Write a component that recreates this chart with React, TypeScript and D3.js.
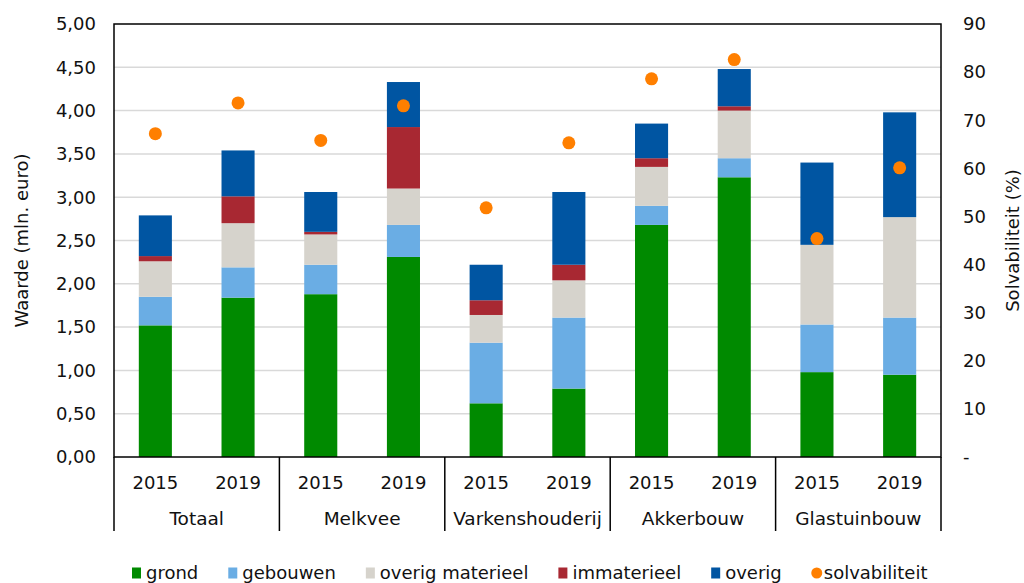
import { useEffect, useRef } from "react";
import * as d3 from "d3";

const groups = ["Totaal", "Melkvee", "Varkenshouderij", "Akkerbouw", "Glastuinbouw"];
const years = ["2015", "2019"];

// waarde in mln. euro, per bar (groep x jaar)
const grond = [1.52, 1.84, 1.88, 2.31, 0.62, 0.79, 2.68, 3.23, 0.98, 0.95];
const gebouwen = [0.33, 0.35, 0.34, 0.37, 0.7, 0.82, 0.22, 0.22, 0.55, 0.66];
const overigMaterieel = [0.41, 0.51, 0.35, 0.42, 0.32, 0.43, 0.45, 0.55, 0.92, 1.16];
const immaterieel = [0.06, 0.31, 0.03, 0.71, 0.17, 0.18, 0.1, 0.05, 0.0, 0.0];
const overig = [0.47, 0.53, 0.46, 0.52, 0.41, 0.84, 0.4, 0.43, 0.95, 1.21];
const solvabiliteit = [67.2, 73.6, 65.8, 73.0, 51.8, 65.3, 78.6, 82.6, 45.4, 60.1];

const leftTicks = [0, 0.5, 1, 1.5, 2, 2.5, 3, 3.5, 4, 4.5, 5];
const rightTicks = [0, 10, 20, 30, 40, 50, 60, 70, 80, 90];

const seriesKeys = ["grond", "gebouwen", "overig materieel", "immaterieel", "overig"];
const seriesColors = ["#008a00", "#6aade4", "#d6d3cc", "#a82832", "#0055a2"];
const dotColor = "#ff7f00";

const font = "'DejaVu Sans', Verdana, sans-serif";

export default function App() {
  const svgRef = useRef<SVGSVGElement>(null);

  useEffect(() => {
    const svg = d3.select(svgRef.current);
    svg.selectAll("*").remove();

    const left = 114, right = 941, top = 24, bottom = 457;

    const rows = grond.map((g, i) => ({
      id: i,
      grond: g,
      gebouwen: gebouwen[i],
      "overig materieel": overigMaterieel[i],
      immaterieel: immaterieel[i],
      overig: overig[i],
    }));
    const ids = rows.map(r => String(r.id));

    const x = d3.scaleBand().domain(ids).range([left, right]).paddingInner(0.6).paddingOuter(0.3);
    const y = d3.scaleLinear().domain([0, 5]).range([bottom, top]);
    const y2 = d3.scaleLinear().domain([0, 90]).range([bottom, top]);
    const gx = d3.scaleBand().domain(groups).range([left, right]);

    // gridlines
    svg.append("g")
      .selectAll("line")
      .data(leftTicks.slice(1, -1))
      .join("line")
      .attr("x1", left).attr("x2", right)
      .attr("y1", d => y(d)).attr("y2", d => y(d))
      .attr("stroke", "#d9d9d9").attr("stroke-width", 1.5);

    // stacked bars
    const stacked = d3.stack<any>().keys(seriesKeys)(rows);
    svg.append("g")
      .selectAll("g")
      .data(stacked)
      .join("g")
      .attr("fill", (_, i) => seriesColors[i])
      .selectAll("rect")
      .data(d => d)
      .join("rect")
      .attr("x", d => x(String(d.data.id))!)
      .attr("width", x.bandwidth())
      .attr("y", d => y(d[1]))
      .attr("height", d => Math.max(0, y(d[0]) - y(d[1])));

    // solvabiliteit dots
    svg.append("g")
      .selectAll("circle")
      .data(solvabiliteit)
      .join("circle")
      .attr("cx", (_, i) => x(String(i))! + x.bandwidth() / 2)
      .attr("cy", d => y2(d))
      .attr("r", 6.5)
      .attr("fill", dotColor);

    // frame
    svg.append("rect")
      .attr("x", left).attr("y", top)
      .attr("width", right - left).attr("height", bottom - top)
      .attr("fill", "none").attr("stroke", "#000").attr("stroke-width", 1.5);

    // category axis lines
    const catBottom = 531;
    svg.append("g")
      .selectAll("line")
      .data(d3.range(groups.length + 1))
      .join("line")
      .attr("x1", i => left + i * gx.step()).attr("x2", i => left + i * gx.step())
      .attr("y1", bottom).attr("y2", catBottom)
      .attr("stroke", "#000").attr("stroke-width", 1.5);

    // year labels
    svg.append("g")
      .selectAll("text")
      .data(ids)
      .join("text")
      .attr("x", d => x(d)! + x.bandwidth() / 2)
      .attr("y", 489)
      .attr("text-anchor", "middle")
      .attr("font-family", font).attr("font-size", 18).attr("fill", "#111")
      .text(d => years[+d % 2]);

    // group labels
    svg.append("g")
      .selectAll("text")
      .data(groups)
      .join("text")
      .attr("x", d => gx(d)! + gx.bandwidth() / 2)
      .attr("y", 525)
      .attr("text-anchor", "middle")
      .attr("font-family", font).attr("font-size", 18.5).attr("fill", "#111")
      .text(d => d);

    // left axis labels
    svg.append("g")
      .selectAll("text")
      .data(leftTicks)
      .join("text")
      .attr("x", 96)
      .attr("y", d => y(d))
      .attr("dy", "0.35em")
      .attr("text-anchor", "end")
      .attr("font-family", font).attr("font-size", 18).attr("fill", "#111")
      .text(d => d3.format(".2f")(d).replace(".", ","));

    // right axis labels
    svg.append("g")
      .selectAll("text")
      .data(rightTicks)
      .join("text")
      .attr("x", 963)
      .attr("y", d => y2(d))
      .attr("dy", "0.35em")
      .attr("font-family", font).attr("font-size", 18).attr("fill", "#111")
      .text(d => (d === 0 ? "-" : String(d)));

    // axis titles
    svg.append("text")
      .attr("transform", `translate(28,${(top + bottom) / 2}) rotate(-90)`)
      .attr("text-anchor", "middle")
      .attr("font-family", font).attr("font-size", 18).attr("fill", "#111")
      .text("Waarde (mln. euro)");

    svg.append("text")
      .attr("transform", `translate(1019,${(top + bottom) / 2}) rotate(-90)`)
      .attr("text-anchor", "middle")
      .attr("font-family", font).attr("font-size", 18).attr("fill", "#111")
      .text("Solvabiliteit (%)");

    // legend, laid out by measured text widths
    const legendItems = [...seriesKeys.map((k, i) => ({ label: k, color: seriesColors[i], dot: false })),
      { label: "solvabiliteit", color: dotColor, dot: true }];
    const legend = svg.append("g");
    let cx = 132;
    const ly = 573;
    legendItems.forEach(item => {
      if (item.dot) {
        legend.append("circle").attr("cx", cx + 5).attr("cy", ly).attr("r", 5.5).attr("fill", item.color);
      } else {
        legend.append("rect").attr("x", cx).attr("y", ly - 5.5).attr("width", 9).attr("height", 11).attr("fill", item.color);
      }
      const t = legend.append("text")
        .attr("x", cx + (item.dot ? 12 : 14))
        .attr("y", ly)
        .attr("dy", "0.35em")
        .attr("font-family", font).attr("font-size", 18).attr("fill", "#111")
        .text(item.label);
      const w = (t.node() as SVGTextElement).getComputedTextLength();
      cx += (item.dot ? 12 : 14) + w + 30;
    });
  }, []);

  return (
    <svg
      ref={svgRef}
      width={1024}
      height={583}
      style={{ position: "absolute", left: 0, top: 0, background: "#fff" }}
    />
  );
}
